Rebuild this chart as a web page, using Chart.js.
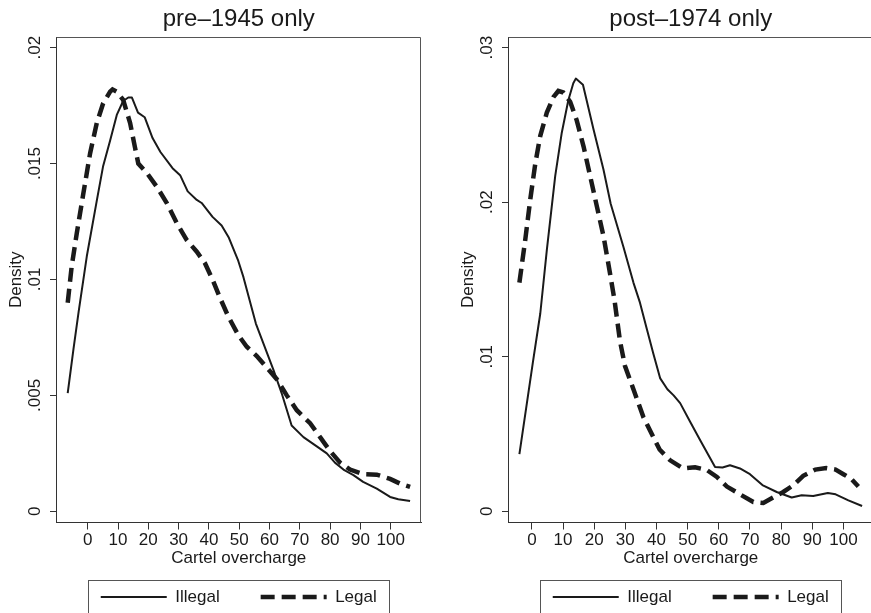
<!DOCTYPE html>
<html>
<head>
<meta charset="utf-8">
<script src="https://cdn.jsdelivr.net/npm/chart.js@4.4.1/dist/chart.umd.min.js"></script>
<style>
html, body { margin: 0; padding: 0; background: #fff; overflow: hidden; width: 871px; height: 613px; }
.pane { position: absolute; top: 0; width: 436px; height: 640px; }
</style>
</head>
<body>
<div class="pane" style="left:0px"><canvas id="c1" width="436" height="640"></canvas></div>
<div class="pane" style="left:452px"><canvas id="c2" width="436" height="640"></canvas></div>
<script>
// ---------------- data ----------------
const panelTitles = ['pre\u20131945 only', 'post\u20131974 only'];
const seriesNames = ['Illegal', 'Legal'];
const xAxisTitle = 'Cartel overcharge';
const yAxisTitle = 'Density';
const xTicks = [0, 10, 20, 30, 40, 50, 60, 70, 80, 90, 100];

const pre1945YTicks = [0, 0.005, 0.01, 0.015, 0.02];
const pre1945YTickLabels = ['0', '.005', '.01', '.015', '.02'];
const post1974YTicks = [0, 0.01, 0.02, 0.03];
const post1974YTickLabels = ['0', '.01', '.02', '.03'];

const pre1945IllegalX = [-6.6, -4.7, -3.0, -0.3, 3.0, 5.1, 7.4, 9.6, 11.7, 13.4, 14.6, 16.6, 18.8, 21.4, 24.0, 28.0, 30.5, 33.0, 36.0, 37.6, 41.2, 44.2, 46.6, 49.7, 51.4, 55.5, 61.3, 64.0, 67.3, 71.2, 75.6, 78.9, 81.6, 84.4, 87.7, 90.9, 95.4, 99.8, 102.5, 106.4];
const pre1945IllegalY = [0.0051, 0.0070, 0.0086, 0.0110, 0.0134, 0.0149, 0.0160, 0.0171, 0.0177, 0.01785, 0.01785, 0.0172, 0.0170, 0.0161, 0.0155, 0.0148, 0.0145, 0.0138, 0.01343, 0.0133, 0.0127, 0.01233, 0.0118, 0.0108, 0.0101, 0.0081, 0.0061, 0.0051, 0.0037, 0.0032, 0.0028, 0.0025, 0.0021, 0.0018, 0.00156, 0.00127, 0.00098, 0.00062, 0.00052, 0.00044];

const pre1945LegalX = [-6.6, -5.3, -3.6, -1.45, 0.8, 3.0, 5.1, 7.4, 8.2, 9.6, 11.7, 14.0, 15.6, 16.7, 19.5, 22.8, 26.1, 29.4, 32.7, 36.0, 38.7, 41.2, 43.7, 46.4, 49.7, 52.5, 55.8, 59.1, 62.4, 65.7, 69.0, 73.4, 76.7, 80.0, 83.3, 86.6, 90.9, 95.4, 99.8, 103.0, 106.4];
const pre1945LegalY = [0.0090, 0.01055, 0.0120, 0.0137, 0.01545, 0.01675, 0.0176, 0.0181, 0.0182, 0.0181, 0.01775, 0.01675, 0.0157, 0.0150, 0.0146, 0.0140, 0.0133, 0.01243, 0.0117, 0.0112, 0.0107, 0.0100, 0.0092, 0.0084, 0.0076, 0.0071, 0.0067, 0.0062, 0.0057, 0.0050, 0.00436, 0.0038, 0.0032, 0.0026, 0.0021, 0.0018, 0.0016, 0.00158, 0.0014, 0.0012, 0.00105];

const post1974IllegalX = [-4.0, 0.3, 2.7, 4.8, 7.5, 9.6, 11.7, 13.3, 14.1, 16.4, 19.8, 23.0, 25.3, 29.4, 32.6, 34.7, 36.9, 39.0, 41.2, 43.5, 45.5, 47.6, 50.8, 54.3, 58.8, 61.2, 63.6, 66.8, 70.0, 74.0, 78.6, 83.4, 86.6, 90.3, 95.0, 97.5, 101.6, 106.0];
const post1974IllegalY = [0.0037, 0.0096, 0.0128, 0.0169, 0.0217, 0.0245, 0.0266, 0.0277, 0.0280, 0.0276, 0.0247, 0.0221, 0.0199, 0.0171, 0.0148, 0.0135, 0.0118, 0.0102, 0.0086, 0.0079, 0.0075, 0.0070, 0.0058, 0.0045, 0.00287, 0.00283, 0.00298, 0.00277, 0.0024, 0.0017, 0.00125, 0.00089, 0.00104, 0.00099, 0.00119, 0.0011, 0.00071, 0.00034];

const post1974LegalX = [-4.0, -2.1, -0.5, 1.1, 2.7, 4.8, 6.9, 8.5, 10.1, 12.3, 14.4, 16.6, 18.7, 20.9, 23.0, 25.0, 26.5, 28.3, 29.9, 32.6, 35.8, 39.0, 41.0, 44.4, 48.6, 52.4, 56.1, 59.4, 62.6, 66.8, 71.1, 74.3, 77.5, 80.7, 84.0, 87.1, 91.0, 94.5, 97.5, 100.0, 102.5, 104.8];
const post1974LegalY = [0.0148, 0.0176, 0.0202, 0.0225, 0.0243, 0.0258, 0.0268, 0.0272, 0.0271, 0.0265, 0.0253, 0.0236, 0.0217, 0.0197, 0.0178, 0.0155, 0.0137, 0.0110, 0.0094, 0.0079, 0.0061, 0.0048, 0.0040, 0.0033, 0.00277, 0.00285, 0.00268, 0.00222, 0.0016, 0.0011, 0.0006, 0.00054, 0.0009, 0.00125, 0.0017, 0.0023, 0.0027, 0.0028, 0.0027, 0.0024, 0.0021, 0.0016];

// ---------------- styling / layout ----------------
const FONT = "'Liberation Sans', Arial, Helvetica, sans-serif";
const INK = '#1a1a1a';
const AXIS = '#333333';
Chart.defaults.font.family = FONT;
Chart.defaults.color = INK;

function toPoints(xs, ys) { return xs.map((x, i) => ({ x: x, y: ys[i] })); }

function yTickPadding(labels, dist, tickLen) {
  const c = document.createElement('canvas').getContext('2d');
  c.font = '17px ' + FONT;
  const w = Math.max.apply(null, labels.map(l => c.measureText(l).width));
  return dist - tickLen - w / 2;
}

const framePlugin = {
  id: 'frame',
  beforeDatasetsDraw(chart) {
    const { ctx, chartArea: a } = chart;
    ctx.save();
    ctx.strokeStyle = '#555';
    ctx.lineWidth = 1;
    ctx.beginPath();
    const t = Math.round(a.top) + 0.5, r = Math.round(a.right) - 0.5;
    ctx.moveTo(a.left, t); ctx.lineTo(r, t); ctx.lineTo(r, a.bottom);
    ctx.stroke();
    ctx.restore();
  }
};

const legendBoxPlugin = {
  id: 'legendBox',
  afterDraw(chart) {
    const lg = chart.legend;
    if (!lg) return;
    const { ctx } = chart;
    const cx = (lg.left + lg.right) / 2;
    const top = Math.round(lg.top + lg.options.labels.padding - 8.5) + 0.5;
    ctx.save();
    ctx.strokeStyle = '#555';
    ctx.lineWidth = 1;
    ctx.strokeRect(Math.round(cx - 150.5) + 0.5, top, 301, 120);
    ctx.restore();
  }
};

function legendLabels(chart) {
  return Chart.defaults.plugins.legend.labels.generateLabels(chart).map(item => {
    const ds = chart.data.datasets[item.datasetIndex];
    item.lineDash = ds.borderDash || [];
    item.lineWidth = ds.borderWidth;
    item.strokeStyle = ds.borderColor;
    item.lineCap = 'butt';
    return item;
  });
}

function makeChart(canvasId, title, illegalX, illegalY, legalX, legalY, yTicks, yLabels, xMin, xMax, yMin, yMax) {
  const tickLenY = 6.5;
  return new Chart(document.getElementById(canvasId), {
    type: 'line',
    data: {
      datasets: [
        {
          label: seriesNames[0],
          data: toPoints(illegalX, illegalY),
          borderColor: INK, backgroundColor: INK,
          borderWidth: 2, pointRadius: 0, tension: 0, fill: false,
          borderJoinStyle: 'round'
        },
        {
          label: seriesNames[1],
          data: toPoints(legalX, legalY),
          borderColor: INK, backgroundColor: INK,
          borderWidth: 4.5, borderDash: [14, 7], pointRadius: 0, tension: 0, fill: false
        }
      ]
    },
    options: {
      responsive: false,
      animation: false,
      devicePixelRatio: 1,
      events: [],
      layout: { padding: { left: 0, right: 15, top: 0, bottom: 24.5 } },
      scales: {
        x: {
          type: 'linear', min: xMin, max: xMax,
          afterBuildTicks: s => { s.ticks = xTicks.map(v => ({ value: v })); },
          afterFit: s => { s.height = 25; },
          ticks: { autoSkip: false, minRotation: 0, maxRotation: 0, padding: 1, color: INK,
                   font: { size: 17 }, callback: v => String(v) },
          grid: { drawOnChartArea: false, drawTicks: true, tickLength: 7, color: AXIS, tickColor: AXIS },
          border: { display: true, color: AXIS, width: 1 },
          title: { display: true, text: xAxisTitle, color: INK, font: { size: 17 },
                   padding: { top: 0, bottom: -20.7 } }
        },
        y: {
          type: 'linear', min: yMin, max: yMax,
          afterBuildTicks: s => { s.ticks = yTicks.map(v => ({ value: v })); },
          afterFit: s => { s.width = 56.5; },
          ticks: { minRotation: 90, maxRotation: 90, crossAlign: 'center',
                   padding: yTickPadding(yLabels, 21.5, tickLenY), color: INK,
                   font: { size: 17 }, callback: (v, i) => yLabels[i] },
          grid: { drawOnChartArea: false, drawTicks: true, tickLength: tickLenY, color: AXIS, tickColor: AXIS },
          border: { display: true, color: AXIS, width: 1 },
          title: { display: true, text: yAxisTitle, color: INK, font: { size: 17 },
                   padding: { top: 5.8, bottom: 0 } }
        }
      },
      plugins: {
        title: { display: true, text: title, fullSize: false, color: INK,
                 font: { size: 24, weight: 'normal' }, padding: { top: 4.5, bottom: 3.7 } },
        legend: {
          display: true, position: 'bottom', fullSize: false,
          labels: { usePointStyle: true, pointStyle: 'line', pointStyleWidth: 66, boxHeight: 17,
                    padding: 41, color: INK, font: { size: 17 }, generateLabels: legendLabels }
        },
        tooltip: { enabled: false }
      }
    },
    plugins: [framePlugin, legendBoxPlugin]
  });
}

makeChart('c1', panelTitles[0], pre1945IllegalX, pre1945IllegalY, pre1945LegalX, pre1945LegalY,
          pre1945YTicks, pre1945YTickLabels, -10.3, 110.0, -0.000483, 0.02046);
makeChart('c2', panelTitles[1], post1974IllegalX, post1974IllegalY, post1974LegalX, post1974LegalY,
          post1974YTicks, post1974YTickLabels, -7.5, 109.5, -0.000725, 0.030692);
</script>
</body>
</html>
